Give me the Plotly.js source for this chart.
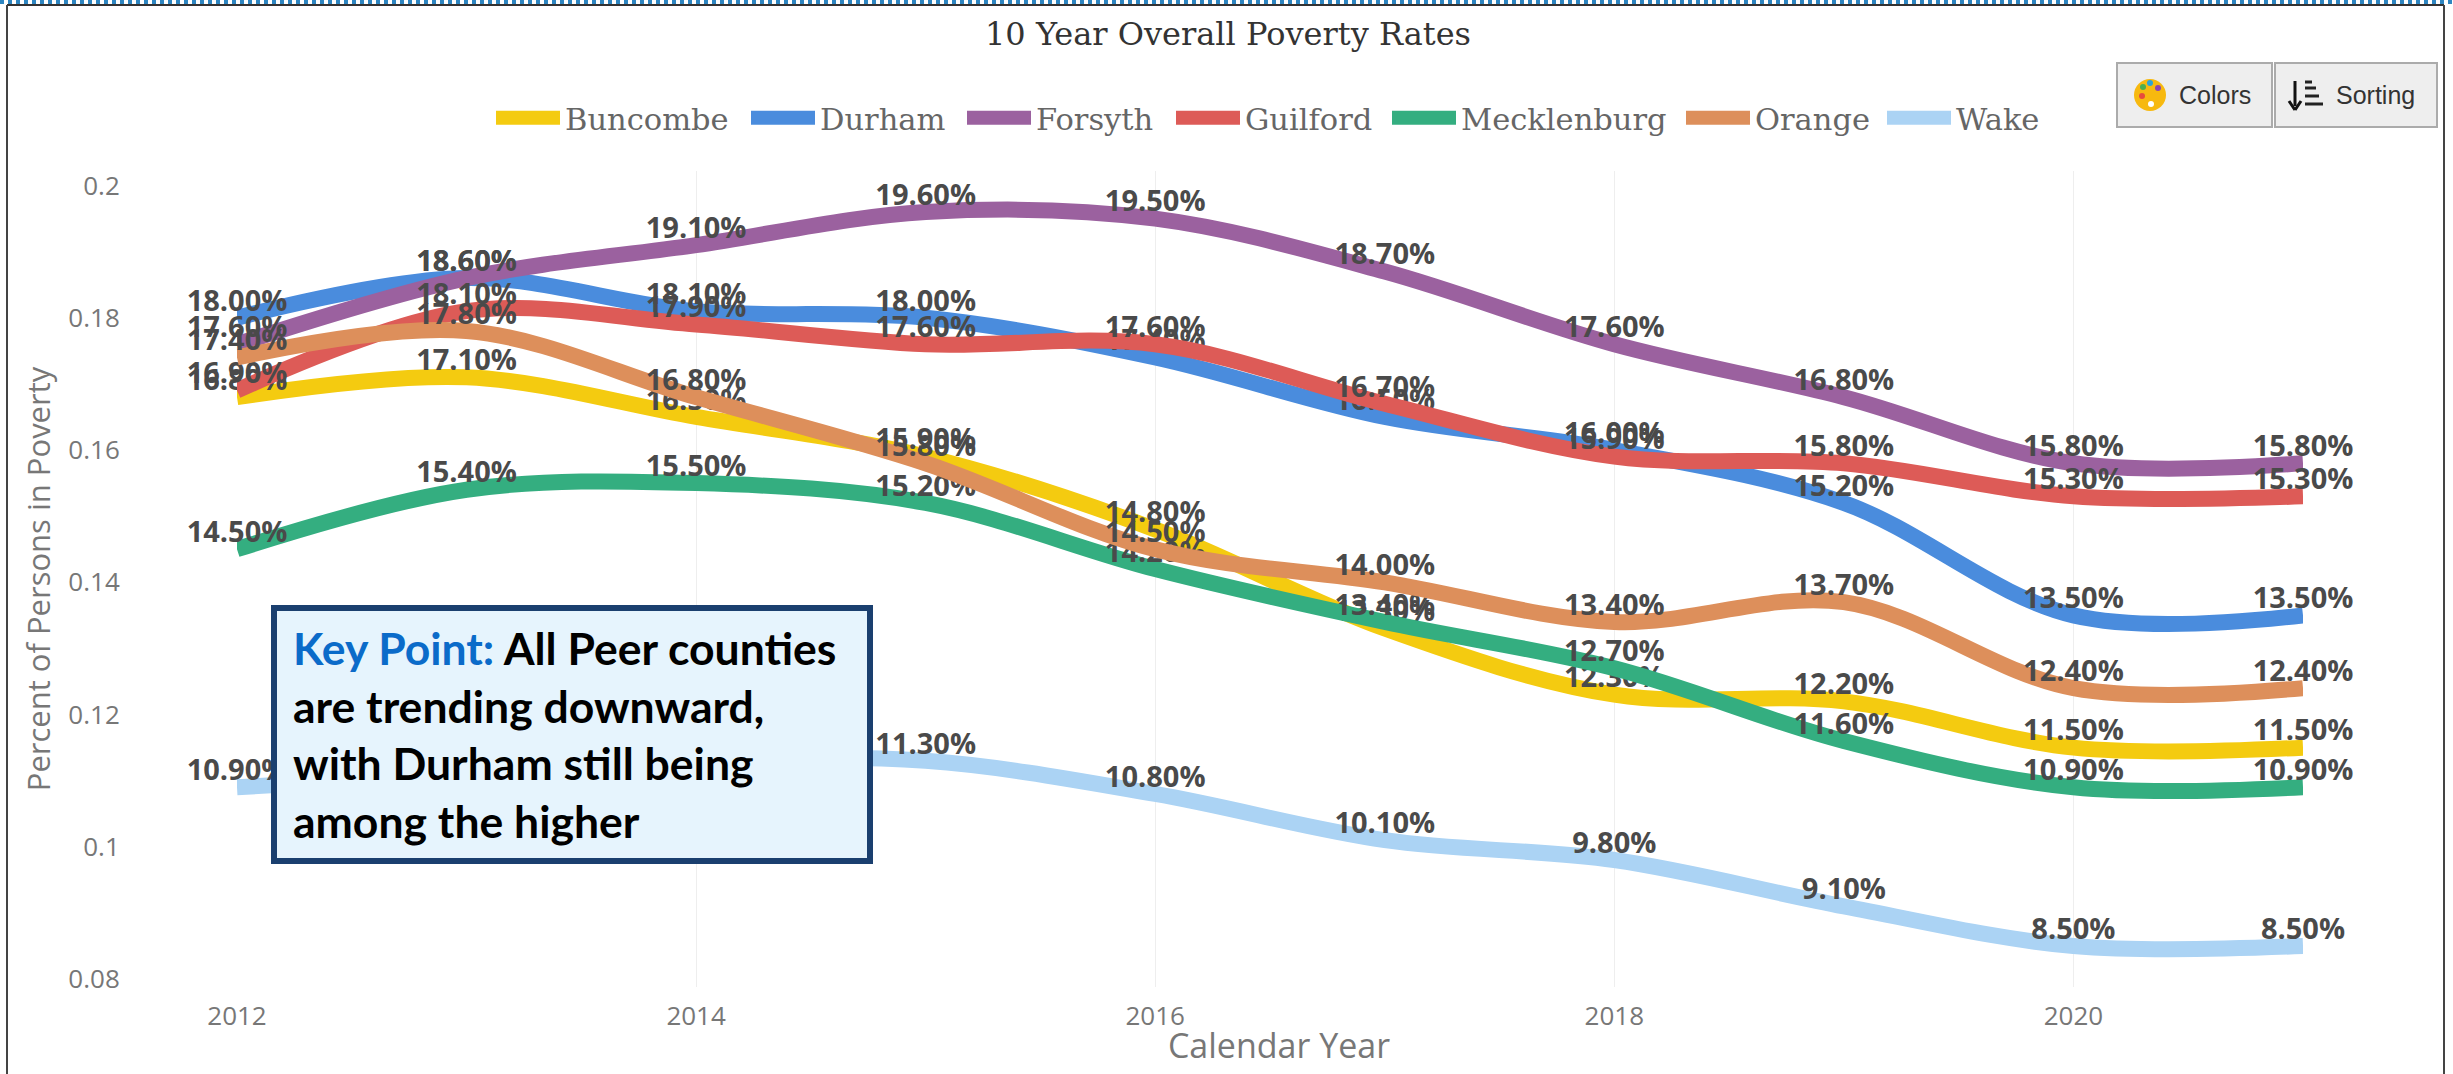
<!DOCTYPE html>
<html><head><meta charset="utf-8">
<script src="https://cdn.plot.ly/plotly-3.0.1.min.js"></script>
<style>html,body{margin:0;padding:0;background:#fff}#c{width:2453px;height:1074px}</style>
</head><body><div id="c"></div>
<script>
const years=[2012,2013,2014,2015,2016,2017,2018,2019,2020,2021];
const names=["Buncombe","Durham","Forsyth","Guilford","Mecklenburg","Orange","Wake"];
const buncombe=[0.168,0.171,0.165,0.159,0.148,0.133,0.123,0.122,0.115,0.115];
const durham=[0.18,0.186,0.181,0.18,0.174,0.165,0.16,0.152,0.135,0.135];
const forsyth=[0.176,0.186,0.191,0.196,0.195,0.187,0.176,0.168,0.158,0.158];
const guilford=[0.169,0.181,0.179,0.176,0.176,0.167,0.159,0.158,0.153,0.153];
const mecklenburg=[0.145,0.154,0.155,0.152,0.142,0.134,0.127,0.116,0.109,0.109];
const orange=[0.174,0.178,0.168,0.158,0.145,0.14,0.134,0.137,0.124,0.124];
const wake=[0.109,0.111,0.113,0.113,0.108,0.101,0.098,0.091,0.085,0.085];
const series=[buncombe,durham,forsyth,guilford,mecklenburg,orange,wake];
const colors=["#f4cb10","#4a8cdd","#9b619f","#dd5b57","#34ae80","#dd8f5b","#abd3f4"];
const legendStarts=[496,751,967,1176,1392,1686,1887];
const W=2453,H=1074,L=237,R=2303,T=171,B=987;
const px=x=>(x-L)/(R-L), py=y=>(B-y)/(B-T);
const legendKey=i=>i===0?"legend":"legend"+(i+1);
const traces=series.map((v,i)=>({x:years,y:v,name:names[i],legend:legendKey(i),showlegend:true,type:"scatter",mode:"lines+text",
 line:{color:colors[i],width:16,shape:"spline",smoothing:1},
 text:v.map(a=>(a*100).toFixed(2)+"%"),textposition:"top center",
 textfont:{family:"Open Sans",size:29,color:"#4a4a4a",weight:700},hoverinfo:"skip",cliponaxis:false}));
const rect=(x0,y0,x1,y1,fill,col,w)=>({type:"rect",xref:"paper",yref:"paper",x0:px(x0),x1:px(x1),y0:py(y0),y1:py(y1),fillcolor:fill,line:{color:col,width:w},layer:"above"});
const seg=(x0,y0,x1,y1,col,w,dash)=>({type:"line",xref:"paper",yref:"paper",x0:px(x0),x1:px(x1),y0:py(y0),y1:py(y1),line:{color:col,width:w,dash:dash||"solid"},layer:"above"});
const dot=(cx,cy,r,fill)=>({type:"circle",xref:"paper",yref:"paper",x0:px(cx-r),x1:px(cx+r),y0:py(cy-r),y1:py(cy+r),fillcolor:fill,line:{width:0},layer:"above"});
const note=(x,y,t,size,col,fam,anchor)=>({xref:"paper",yref:"paper",x:px(x),y:py(y),text:t,showarrow:false,xanchor:anchor||"left",yanchor:"middle",font:{family:fam,size:size,color:col},align:"left",borderpad:0});
const shapes=[
 seg(0,2,W,2,"#2e86c1",4,"dot"),
 seg(7,5,2444,5,"#333",2),
 seg(7,5,7,H,"#444",2),
 seg(2444,5,2444,H,"#444",2),
 rect(274,608,870,861,"#e6f4fd","#1a3f6f",6),
 rect(2117,63,2272,127,"#eeeeee","#ababab",2),
 rect(2275,63,2437,127,"#eeeeee","#ababab",2),
 dot(2150,95,16,"#f7b90f"),dot(2143,87,3,"#4caf50"),dot(2150,83,3,"#2ea3d5"),dot(2158,88,3,"#8e44ad"),dot(2142,96,3,"#e74c3c"),dot(2151,104,3,"#ffffff"),
 seg(2295,81,2295,106,"#111",3),
 seg(2289,101,2295,110,"#111",3),seg(2301,101,2295,110,"#111",3),
 seg(2305,82,2312,82,"#222",3),seg(2305,88,2316,88,"#222",3),seg(2305,96,2319,96,"#222",3),seg(2305,104,2323,104,"#222",3)
];
const annotations=[
 note(292,647,"<b><span style='color:#0b6bc9'>Key Point:</span> All Peer counties</b>",44.5,"#000","Lato"),
 note(292,705,"<b>are trending downward,</b>",44.5,"#000","Lato"),
 note(292,762,"<b>with Durham still being</b>",44.5,"#000","Lato"),
 note(292,820,"<b>among the higher</b>",44.5,"#000","Lato"),
 note(2178,95,"Colors",25,"#333","Liberation Sans"),
 note(2335,95,"Sorting",25,"#333","Liberation Sans")
];
const layout={width:W,height:H,autosize:false,paper_bgcolor:"#fff",plot_bgcolor:"#fff",
 margin:{l:L,r:W-R,t:T,b:H-B,pad:0},
 title:{text:"10 Year Overall Poverty Rates",x:1228/W,xanchor:"center",y:1-34/H,yanchor:"middle",font:{family:"DejaVu Serif",size:32,color:"#333"}},
 xaxis:{range:[2012,2021],tick0:2012,dtick:2,tickmode:"linear",showgrid:true,gridcolor:"#eeeeee",gridwidth:1,zeroline:false,showline:false,ticks:"outside",ticklen:6,tickcolor:"rgba(0,0,0,0)",tickfont:{family:"Open Sans",size:26,color:"#777"},title:{text:"Calendar Year",standoff:4,font:{family:"Open Sans",size:34,color:"#777"}}},
 yaxis:{range:[0.0788,0.2022],tick0:0.08,dtick:0.02,tickmode:"linear",showgrid:false,zeroline:false,showline:false,ticks:"outside",ticklen:111,tickcolor:"rgba(0,0,0,0)",tickfont:{family:"Open Sans",size:26,color:"#777"},title:{text:"Percent of Persons in Poverty",standoff:8,font:{family:"Open Sans",size:31,color:"#777"}}},
 shapes:shapes,annotations:annotations};
legendStarts.forEach((s,i)=>{layout[legendKey(i)]={orientation:"h",x:px(s-5),xanchor:"left",y:py(118),yanchor:"middle",itemwidth:64,font:{family:"DejaVu Serif",size:30.5,color:"#666"},bgcolor:"rgba(0,0,0,0)",itemclick:false,itemdoubleclick:false};});
Plotly.newPlot("c",traces,layout,{displayModeBar:false,staticPlot:true}).then(()=>{
 document.querySelectorAll("#c .legendlines path").forEach(p=>{p.style.strokeWidth="14px";});
 const t=document.querySelector("#c .xtitle");
 if(t){t.setAttribute("x",+t.getAttribute("x")+9);t.setAttribute("y",+t.getAttribute("y")-6);}
});
</script></body></html>
